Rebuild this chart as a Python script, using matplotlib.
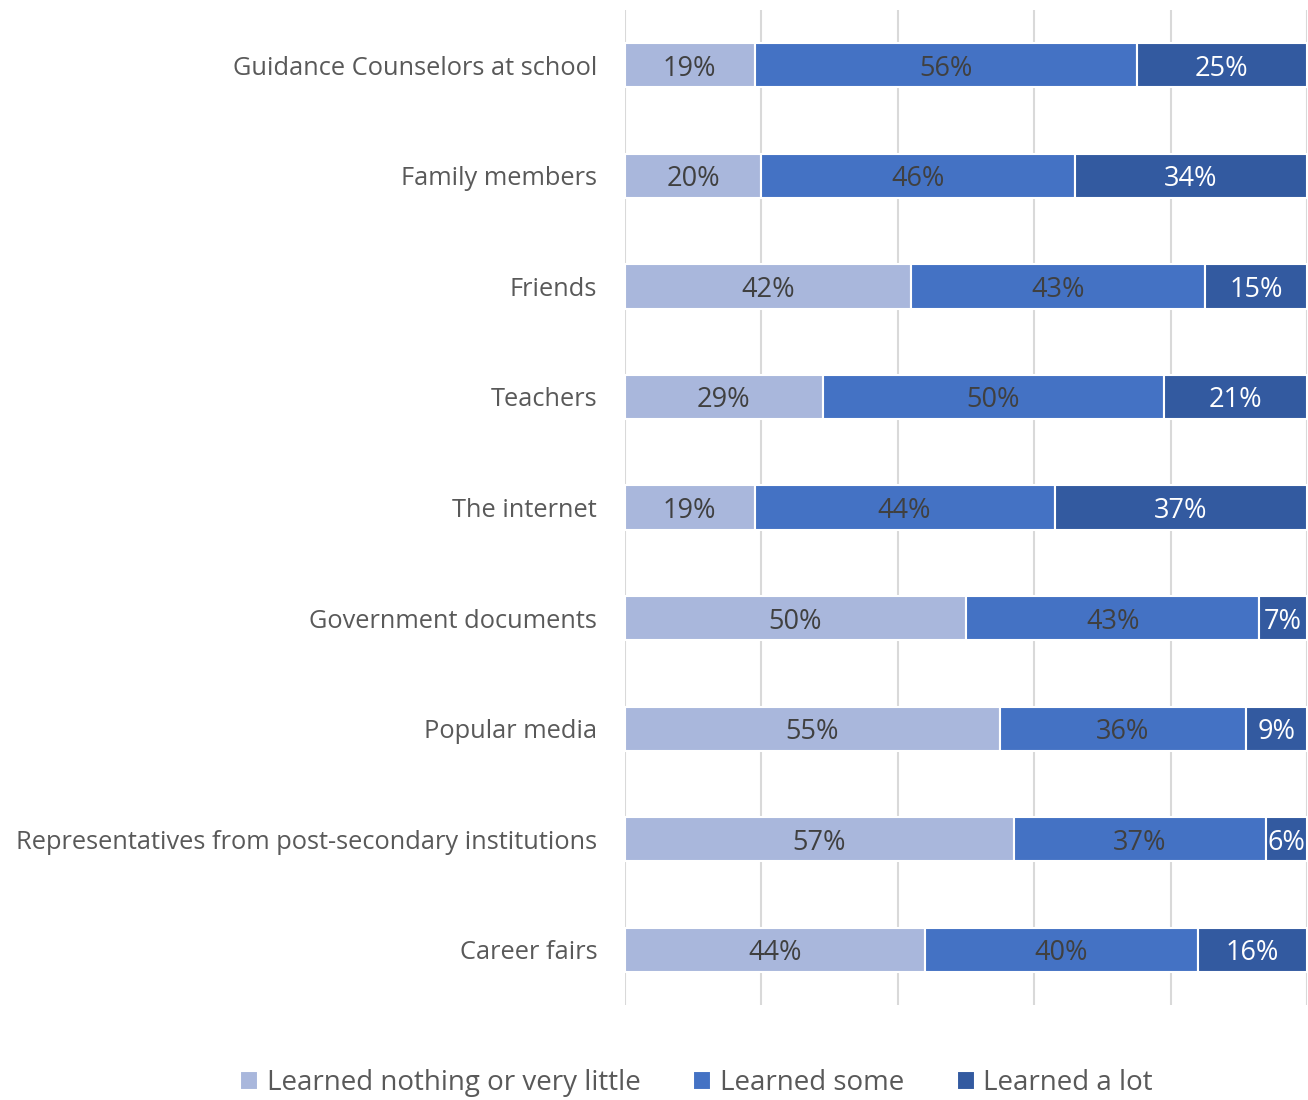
import matplotlib.pyplot as plt
import numpy as np

categories = [
    "Guidance Counselors at school",
    "Family members",
    "Friends",
    "Teachers",
    "The internet",
    "Government documents",
    "Popular media",
    "Representatives from post-secondary institutions",
    "Career fairs",
]
nothing_little = [19, 20, 42, 29, 19, 50, 55, 57, 44]
some = [56, 46, 43, 50, 44, 43, 36, 37, 40]
a_lot = [25, 34, 15, 21, 37, 7, 9, 6, 16]

series_names = ["Learned nothing or very little", "Learned some", "Learned a lot"]
series = [nothing_little, some, a_lot]
colors = ["#A9B7DC", "#4472C4", "#335AA0"]
text_colors = ["#404040", "#404040", "#FFFFFF"]

plt.rcParams["font.family"] = ["Open Sans", "DejaVu Sans"]

fig = plt.figure(figsize=(13.08, 11.0), dpi=100)
ax = fig.add_axes([625 / 1308, 1 - 1005 / 1100, 682 / 1308, 995 / 1100])

y = np.arange(len(categories))
left = np.zeros(len(categories))
for name, vals, col, tcol in zip(series_names, series, colors, text_colors):
    vals = np.array(vals, dtype=float)
    ax.barh(y, vals, left=left, height=0.4, color=col, edgecolor="white",
            linewidth=1.5, label=name, zorder=3)
    for yi, l, v in zip(y, left, vals):
        ax.text(l + v / 2, yi, f"{int(v)}%", ha="center", va="center_baseline",
                fontsize=19.5, color=tcol, zorder=4)
    left += vals

ax.set_xlim(0, 100)
ax.set_ylim(len(categories) - 0.5, -0.5)
ax.set_xticks(np.arange(0, 101, 20))
ax.xaxis.grid(True, color="#D9D9D9", linewidth=1.5, zorder=0)
ax.tick_params(axis="x", length=0, labelbottom=False)
ax.tick_params(axis="y", length=0, pad=20, labelsize=18.3, labelcolor="#595959")
ax.set_yticks(y)
ax.set_yticklabels(categories)
for s in ax.spines.values():
    s.set_visible(False)

handles, labels = ax.get_legend_handles_labels()
fig.legend(handles, labels, loc="center", bbox_to_anchor=(0.5325, 1 - 1083 / 1100),
           ncol=3, frameon=False, fontsize=20, labelcolor="#595959",
           handlelength=0.65, handleheight=0.65, handletextpad=0.3, columnspacing=1.9)

fig.savefig("out.png", dpi=100)
